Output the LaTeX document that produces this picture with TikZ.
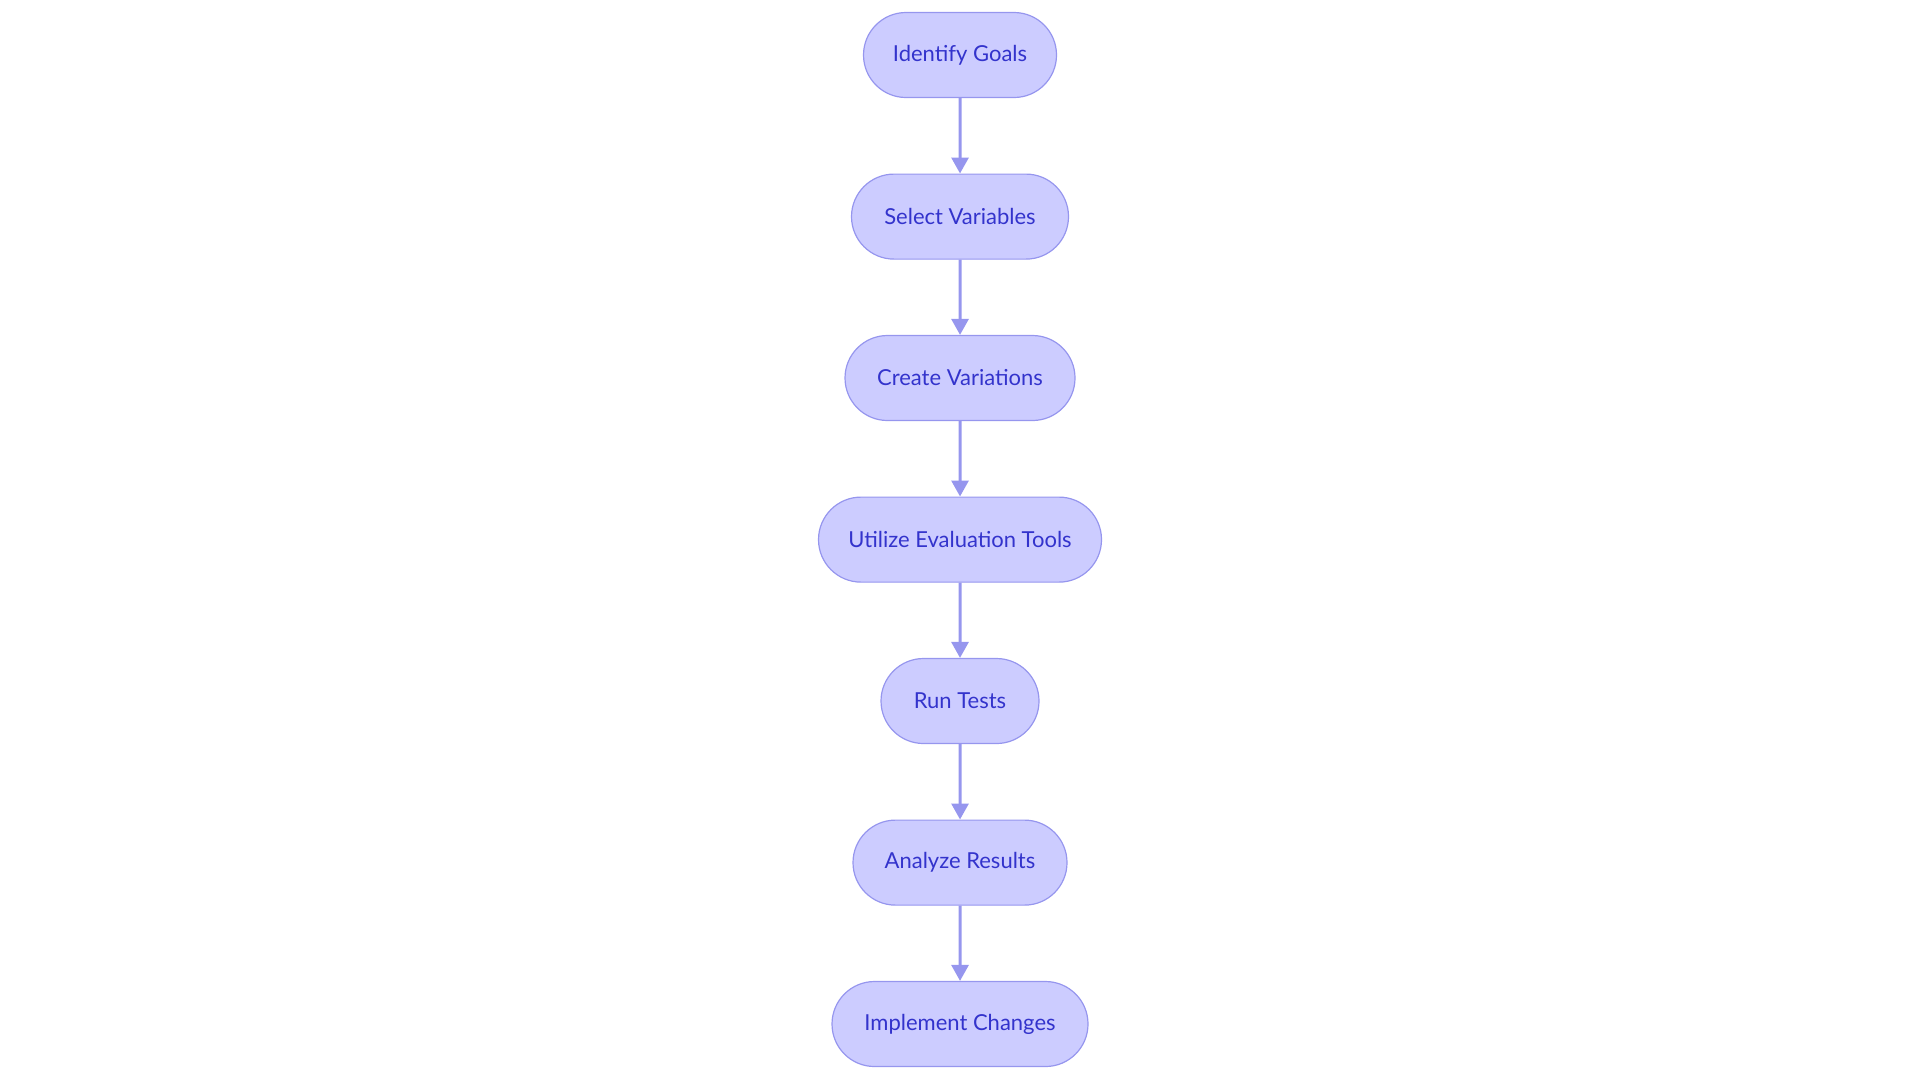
\documentclass[tikz,border=0pt]{standalone}
\usepackage{fontspec}
\setmainfont{Lato}
\usetikzlibrary{shapes.misc,arrows.meta}
\definecolor{nfill}{HTML}{CCCCFF}
\definecolor{nline}{HTML}{9696EE}
\definecolor{ntext}{HTML}{3333CC}
\tikzset{
  stepbox/.style={rounded rectangle, draw=nline, fill=nfill, line width=0.6pt, minimum height=42.5pt, text=ntext, font=\fontsize{11pt}{13pt}\selectfont, inner sep=0pt},
  conn/.style={draw=nline, line width=1.5pt, -{Triangle[length=8pt,width=8.5pt]}}
}
\begin{document}
\begin{tikzpicture}[x=1pt,y=1pt]
\useasboundingbox (0,0) rectangle (960,-541.5);
\node[stepbox, minimum width=96.5pt] (a) at (480,-27.5) {Identify Goals};
\node[stepbox, minimum width=108.5pt] (b) at (480,-108.3) {Select Variables};
\node[stepbox, minimum width=115pt] (c) at (480,-189) {Create Variations};
\node[stepbox, minimum width=141.5pt] (d) at (480,-269.8) {Utilize Evaluation Tools};
\node[stepbox, minimum width=79pt] (e) at (480,-350.5) {Run Tests};
\node[stepbox, minimum width=107pt] (f) at (480,-431.3) {Analyze Results};
\node[stepbox, minimum width=128pt] (g) at (480,-512) {Implement Changes};
\foreach \u/\v in {a/b,b/c,c/d,d/e,e/f,f/g} \draw[conn] (\u) -- (\v);
\end{tikzpicture}
\end{document}
